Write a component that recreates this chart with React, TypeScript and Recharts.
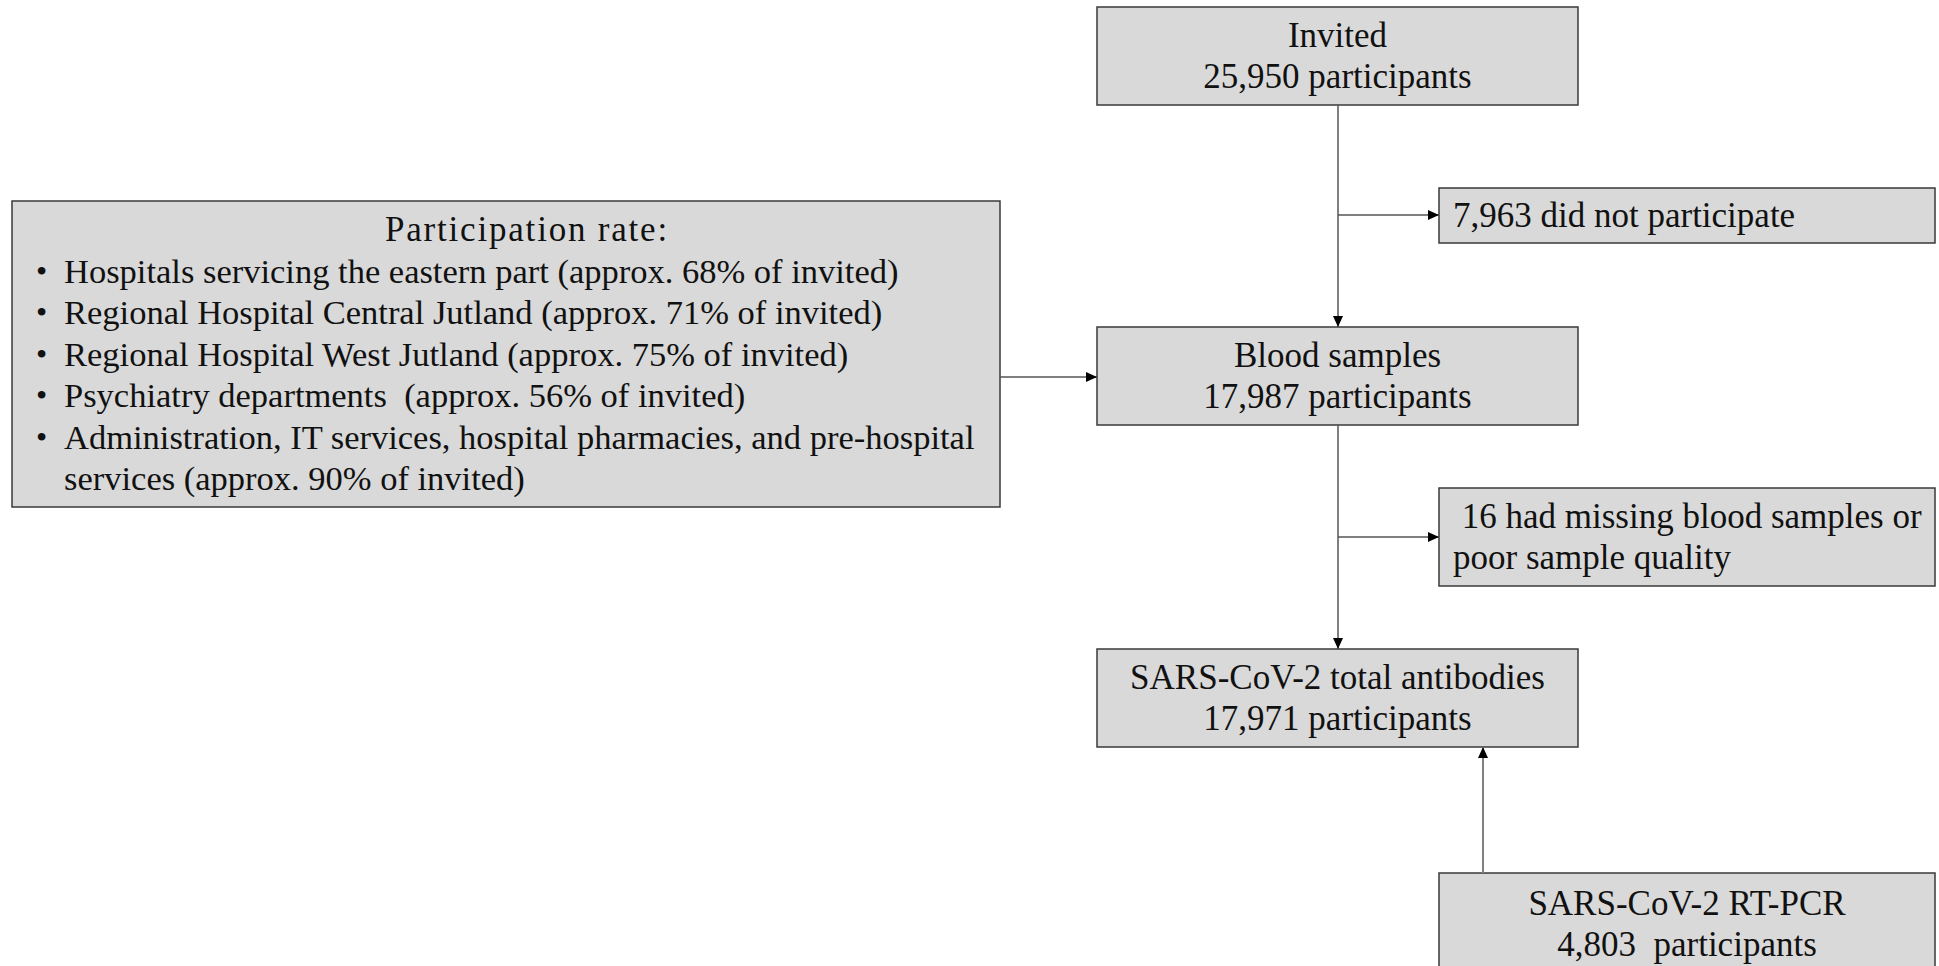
import { ComposedChart, ReferenceArea, ReferenceLine, Scatter, XAxis, YAxis } from "recharts";

// flow boxes, in page units (x to the right, y downwards)
const BOX_IDS = ["invited", "notPart", "rate", "blood", "missing", "antibodies", "pcr"];
const BOX_X1 = [1097, 1439, 12, 1097, 1439, 1097, 1439];
const BOX_X2 = [1578, 1935, 1000, 1578, 1935, 1578, 1935];
const BOX_Y1 = [7, 188, 201, 327, 488, 649, 873];
const BOX_Y2 = [105, 243, 507, 425, 586, 747, 971];
const BOX_KIND = ["center", "left", "list", "center", "left", "center", "center"];

const BOX_LINES: string[][] = [
  ["Invited", "25,950 participants"],
  ["7,963 did not participate"],
  [
    "Participation rate:",
    "Hospitals servicing the eastern part (approx. 68% of invited)",
    "Regional Hospital Central Jutland (approx. 71% of invited)",
    "Regional Hospital West Jutland (approx. 75% of invited)",
    "Psychiatry departments  (approx. 56% of invited)",
    "Administration, IT services, hospital pharmacies, and pre-hospital",
    "services (approx. 90% of invited)",
  ],
  ["Blood samples", "17,987 participants"],
  [" 16 had missing blood samples or", "poor sample quality"],
  ["SARS-CoV-2 total antibodies", "17,971 participants"],
  ["SARS-CoV-2 RT-PCR", "4,803  participants"],
];
// which list lines get a bullet (line 0 is the title, last line is a wrap)
const LIST_BULLETS = [false, true, true, true, true, true, false];

// connectors
const ARROW_X1 = [1338, 1338, 1000, 1338, 1338, 1483];
const ARROW_Y1 = [105, 215, 377, 425, 537, 873];
const ARROW_X2 = [1338, 1439, 1097, 1338, 1439, 1483];
const ARROW_Y2 = [327, 215, 377, 649, 537, 747];
const ARROW_DIR = ["down", "right", "right", "down", "right", "up"];

const FONT = "'Liberation Serif', 'Times New Roman', serif";
const TEXT = "#111111";

const tips = ARROW_X2.map((x, i) => ({ x, y: ARROW_Y2[i], dir: ARROW_DIR[i] }));

function ArrowHead(props: any) {
  const { cx, cy, payload } = props;
  const len = 11;
  const half = 5;
  let pts = "";
  if (payload.dir === "down") pts = `${cx},${cy} ${cx - half},${cy - len} ${cx + half},${cy - len}`;
  else if (payload.dir === "up") pts = `${cx},${cy} ${cx - half},${cy + len} ${cx + half},${cy + len}`;
  else pts = `${cx},${cy} ${cx - len},${cy - half} ${cx - len},${cy + half}`;
  return <polygon points={pts} fill="#000" />;
}

function boxLabel(idx: number) {
  return (props: any) => {
    const vb = props.viewBox || {};
    const { x, y, width, height } = vb;
    const lines = BOX_LINES[idx];
    const kind = BOX_KIND[idx];
    const lh = 41.5;
    if (kind === "list") {
      return (
        <g fontFamily={FONT} fill={TEXT}>
          {lines.map((t, i) => (
            <g key={i}>
              {LIST_BULLETS[i] && (
                <text x={x + 24} y={y + 28 + i * lh} fontSize={32} dominantBaseline="central">
                  •
                </text>
              )}
              <text
                x={i === 0 ? x + 515 : x + 52}
                y={y + 28 + i * lh}
                fontSize={i === 0 ? 35 : 34.5}
                letterSpacing={i === 0 ? 1.8 : 0}
                textAnchor={i === 0 ? "middle" : "start"}
                dominantBaseline="central"
                style={{ whiteSpace: "pre" }}
              >
                {t}
              </text>
            </g>
          ))}
        </g>
      );
    }
    const cy = y + height / 2;
    const anchor = kind === "center" ? "middle" : "start";
    const tx = kind === "center" ? x + width / 2 : x + 14;
    const boxH = idx === 6 ? 100 : height;
    const c = idx === 6 ? y + boxH / 2 + 1 : cy;
    return (
      <g fontFamily={FONT} fill={TEXT}>
        {lines.map((t, i) => (
          <text
            key={i}
            x={tx}
            y={c + (i - (lines.length - 1) / 2) * lh}
            fontSize={35}
            textAnchor={anchor}
            dominantBaseline="central"
            style={{ whiteSpace: "pre" }}
          >
            {t}
          </text>
        ))}
      </g>
    );
  };
}

export default function App() {
  return (
    <div style={{ position: "absolute", left: 0, top: 0, width: 1939, height: 966, background: "#fff" }}>
      <ComposedChart width={1939} height={966} data={tips} margin={{ top: 0, right: 0, bottom: 0, left: 0 }}>
        <XAxis type="number" dataKey="x" domain={[0, 1939]} hide />
        <YAxis type="number" dataKey="y" domain={[0, 966]} reversed hide />
        {ARROW_X1.map((x1, i) => (
          <ReferenceLine
            key={"a" + i}
            segment={[
              { x: x1, y: ARROW_Y1[i] },
              { x: ARROW_X2[i], y: ARROW_Y2[i] },
            ]}
            stroke={i === 5 ? "#808080" : "#555555"}
            strokeWidth={i === 5 ? 2 : 1.5}
            ifOverflow="visible"
          />
        ))}
        {BOX_IDS.map((id, i) => (
          <ReferenceArea
            key={id}
            x1={BOX_X1[i]}
            x2={BOX_X2[i]}
            y1={BOX_Y1[i]}
            y2={BOX_Y2[i]}
            fill="#d9d9d9"
            fillOpacity={1}
            stroke="#3a3a3a"
            strokeWidth={1.5}
            ifOverflow="visible"
            label={boxLabel(i)}
          />
        ))}
        <Scatter dataKey="y" data={tips} shape={<ArrowHead />} isAnimationActive={false} />
      </ComposedChart>
    </div>
  );
}
